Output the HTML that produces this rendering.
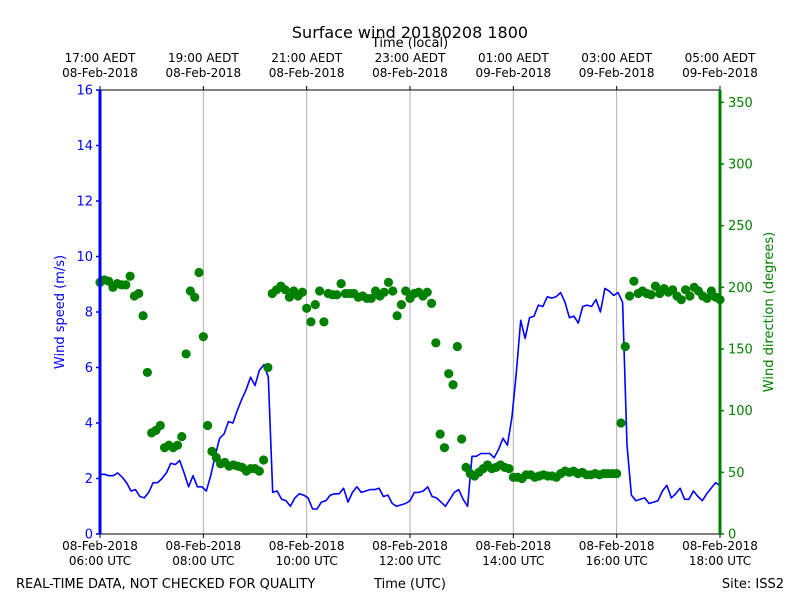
<!DOCTYPE html>
<html><head><meta charset="utf-8">
<style>
body{margin:0;background:#fff;}
svg{display:block;font-family:"DejaVu Sans","Liberation Sans",sans-serif;}
</style></head>
<body>
<svg id="chart" width="800" height="600" viewBox="0 0 800 600" xmlns="http://www.w3.org/2000/svg">
<rect width="800" height="600" fill="#fff"/>
<text x="410" y="38" font-size="16" text-anchor="middle">Surface wind 20180208 1800</text>
<text x="410" y="47" font-size="13" text-anchor="middle">Time (local)</text>
<text x="410" y="588" font-size="13" text-anchor="middle">Time (UTC)</text>
<text x="16" y="588" font-size="13">REAL-TIME DATA, NOT CHECKED FOR QUALITY</text>
<text x="784" y="588" font-size="13" text-anchor="end">Site: ISS2</text>
<text transform="translate(64,312) rotate(-90)" font-size="13" fill="#0000ff" text-anchor="middle">Wind speed (m/s)</text>
<text transform="translate(773,312) rotate(-90)" font-size="13" fill="#008000" text-anchor="middle">Wind direction (degrees)</text>
<g id="grid"></g>
<g id="marks"></g>
<g id="axes"></g>
</svg>
<script>
const speedValues=[2.15,2.15,2.1,2.1,2.2,2.05,1.85,1.55,1.6,1.35,1.3,
1.5,1.85,1.85,2.0,2.2,2.55,2.5,2.65,2.2,1.7,
2.1,1.7,1.7,1.55,2.1,2.8,3.45,3.6,4.05,4.0,
4.45,4.85,5.2,5.65,5.35,5.9,6.1,5.65,1.5,1.55,
1.25,1.2,1.0,1.3,1.45,1.4,1.3,0.9,0.9,1.15,
1.2,1.4,1.45,1.45,1.65,1.15,1.5,1.7,1.5,1.55,
1.6,1.6,1.65,1.35,1.4,1.1,1.0,1.05,1.1,1.2,
1.5,1.5,1.55,1.7,1.35,1.3,1.15,1.0,1.25,1.5,
1.6,1.25,1.0,2.8,2.8,2.9,2.9,2.9,2.75,3.05,
3.45,3.2,4.2,5.8,7.7,7.05,7.8,7.85,8.25,8.2,
8.55,8.5,8.55,8.7,8.35,7.8,7.85,7.6,8.2,8.25,
8.2,8.45,8.0,8.85,8.75,8.6,8.7,8.35,3.2,1.4,
1.2,1.25,1.3,1.1,1.15,1.2,1.55,1.75,1.3,1.45,
1.65,1.25,1.25,1.55,1.35,1.2,1.45,1.65,1.85,1.75];
const directionValues=[204,206,205,200,203,202,202,209,193,195,177,131,82,84,88,70,72,70,72,79,146,197,192,212,160,88,67,62,57,58,55,56,55,54,51,53,53,51,60,135,195,198,201,198,192,197,193,196,183,172,186,197,172,195,194,194,203,195,195,195,192,193,191,191,197,193,196,204,197,177,186,197,191,195,196,193,196,187,155,81,70,130,121,152,77,54,49,47,50,53,56,53,54,56,54,53,46,46,45,48,48,46,47,48,47,47,46,49,51,50,51,49,50,48,48,49,48,49,49,49,49,90,152,193,205,195,197,195,194,201,195,199,196,198,193,190,198,193,200,197,193,191,197,192,190];
const speedTicks=[0,2,4,6,8,10,12,14,16];
const dirTicks=[0,50,100,150,200,250,300,350];
const utcTimes=["06:00 UTC","08:00 UTC","10:00 UTC","12:00 UTC","14:00 UTC","16:00 UTC","18:00 UTC"];
const utcDates=["08-Feb-2018","08-Feb-2018","08-Feb-2018","08-Feb-2018","08-Feb-2018","08-Feb-2018","08-Feb-2018"];
const localTimes=["17:00 AEDT","19:00 AEDT","21:00 AEDT","23:00 AEDT","01:00 AEDT","03:00 AEDT","05:00 AEDT"];
const localDates=["08-Feb-2018","08-Feb-2018","08-Feb-2018","08-Feb-2018","09-Feb-2018","09-Feb-2018","09-Feb-2018"];

const NS="http://www.w3.org/2000/svg";
const PL=100,PR=720,PT=90,PB=534;
const xIdx=(i,n)=>PL+(PR-PL)*i/(n-1);
const xHour=h=>PL+(PR-PL)*h/12;
const ySpeed=v=>PB-(PB-PT)*v/16;
const yDir=d=>PB-(PB-PT)*d/360;
function mk(tag,attrs,parent,text){const e=document.createElementNS(NS,tag);for(const k in attrs)e.setAttribute(k,attrs[k]);if(text!==undefined)e.textContent=text;parent.appendChild(e);return e;}
const gridG=document.getElementById('grid'),marksG=document.getElementById('marks'),axesG=document.getElementById('axes');

for(let k=1;k<utcTimes.length-1;k++){
  const g=mk('line',{x1:xHour(k*2),x2:xHour(k*2),y1:PT,y2:PB,stroke:'#b0b0b0','stroke-width':1},gridG);
  
  
}
let pd='';
speedValues.forEach((v,i)=>{pd+=(i?'L':'M')+xIdx(i,speedValues.length).toFixed(1)+' '+ySpeed(v).toFixed(1);});
const speedLine=mk('path',{d:pd,fill:'none',stroke:'#0000ff','stroke-width':1.6,'stroke-linejoin':'round'},marksG);


directionValues.forEach((v,i)=>{
  const c=mk('circle',{cx:xIdx(i,directionValues.length),cy:yDir(v),r:4.6,fill:'#008000'},marksG);
  
  
});
const botAx=mk('line',{x1:PL,x2:PR,y1:PB,y2:PB,stroke:'#000','stroke-width':1},axesG);


const topAx=mk('line',{x1:PL,x2:PR,y1:PT,y2:PT,stroke:'#000','stroke-width':1},axesG);


const leftAx=mk('line',{x1:PL,x2:PL,y1:PT,y2:PB,stroke:'#0000ff','stroke-width':3},axesG);


const rightAx=mk('line',{x1:PR,x2:PR,y1:PT,y2:PB,stroke:'#008000','stroke-width':3},axesG);


speedTicks.forEach(v=>{
  const y=ySpeed(v);
  mk('line',{x1:PL-4,x2:PL,y1:y,y2:y,stroke:'#0000ff','stroke-width':1.5},axesG);
  const t=mk('text',{x:PL-7,y:y+4.5,'font-size':13,fill:'#0000ff','text-anchor':'end'},axesG,String(v));
  
  
});
dirTicks.forEach(v=>{
  const y=yDir(v);
  mk('line',{x1:PR,x2:PR+4,y1:y,y2:y,stroke:'#008000','stroke-width':1.5},axesG);
  const t=mk('text',{x:PR+8,y:y+4.5,'font-size':13,fill:'#008000'},axesG,String(v));
  
  
});
utcTimes.forEach((s,k)=>{
  const x=xHour(k*2);
  mk('line',{x1:x,x2:x,y1:PB,y2:PB+4,stroke:'#000'},axesG);
  mk('line',{x1:x,x2:x,y1:PT-4,y2:PT,stroke:'#000'},axesG);
  const a=mk('text',{x:x,y:PB+16,'font-size':12,'text-anchor':'middle'},axesG,utcDates[k]);
  
  
  const b=mk('text',{x:x,y:PB+31,'font-size':12,'text-anchor':'middle'},axesG,s);
  
  
  const c=mk('text',{x:x,y:PT-28,'font-size':12,'text-anchor':'middle'},axesG,localTimes[k]);
  
  
  const e=mk('text',{x:x,y:PT-13,'font-size':12,'text-anchor':'middle'},axesG,localDates[k]);
  
  
});
</script>
</body></html>
